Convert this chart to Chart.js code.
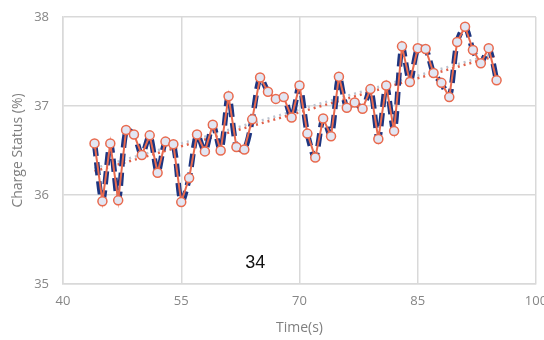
<!DOCTYPE html>
<html>
<head>
<meta charset="utf-8">
<script src="https://cdn.jsdelivr.net/npm/chart.js@4"></script>
<style>
  html, body { margin: 0; padding: 0; background: #fff; }
  #wrap { width: 544px; height: 340px; }
</style>
</head>
<body>
<div id="wrap"><canvas id="chart" width="544" height="340"></canvas></div>
<script>
// Time in seconds and measured charge status (%)
const times = [44, 45, 46, 47, 48, 49, 50, 51, 52, 53, 54, 55, 56, 57, 58, 59, 60,
    61, 62, 63, 64, 65, 66, 67, 68, 69, 70, 71, 72, 73, 74, 75, 76, 77, 78, 79,
    80, 81, 82, 83, 84, 85, 86, 87, 88, 89, 90, 91, 92, 93, 94, 95];
const charge = [36.58, 35.93, 36.58, 35.94, 36.73, 36.68, 36.45, 36.67, 36.25, 36.60,
    36.57, 35.92, 36.19, 36.68, 36.49, 36.79, 36.50, 37.11, 36.54, 36.51, 36.85,
    37.32, 37.16, 37.08, 37.10, 36.87, 37.23, 36.69, 36.42, 36.86, 36.66, 37.33,
    36.98, 37.04, 36.97, 37.19, 36.63, 37.23, 36.72, 37.67, 37.27, 37.65, 37.64,
    37.37, 37.26, 37.10, 37.72, 37.89, 37.63, 37.48, 37.65, 37.29];
// second (grey) trend line, end values
const greyTrendX = [44, 94];
const greyTrendY = [36.30, 37.57];
const xTicks = [40, 55, 70, 85, 100];
const yTicks = [35, 36, 37, 38];
const note = '34';

const points = times.map((t, i) => ({ x: t, y: charge[i] }));

// least squares trend for the red dotted line
function linearTrend(xs, ys) {
    const n = xs.length;
    const mx = xs.reduce((a, b) => a + b, 0) / n;
    const my = ys.reduce((a, b) => a + b, 0) / n;
    let sxy = 0, sxx = 0;
    xs.forEach((x, i) => { sxy += (x - mx) * (ys[i] - my); sxx += (x - mx) * (x - mx); });
    const slope = sxy / sxx;
    const first = xs[0], last = xs[n - 1];
    return [
        { x: first, y: my + slope * (first - mx) },
        { x: last, y: my + slope * (last - mx) }
    ];
}
const redTrend = linearTrend(times, charge);
const greyTrend = greyTrendX.map((x, i) => ({ x: x, y: greyTrendY[i] }));

const tickFont = { family: 'Open Sans', size: 13 };
const tickColor = '#868686';
const gridColor = '#d9d9d9';

// draws the "34" label inside the plot
const notePlugin = {
    id: 'note',
    afterDatasetsDraw(chart) {
        const { ctx, scales } = chart;
        ctx.save();
        ctx.font = '18px "Liberation Sans", Arial, sans-serif';
        ctx.fillStyle = '#111';
        ctx.textAlign = 'center';
        ctx.textBaseline = 'middle';
        ctx.fillText(note, scales.x.getPixelForValue(64.4), scales.y.getPixelForValue(35.24));
        ctx.restore();
    }
};

new Chart(document.getElementById('chart'), {
    type: 'line',
    data: {
        datasets: [
            {
                data: points,
                borderColor: '#e96a4e',
                borderWidth: 2,
                pointRadius: 4.5,
                pointBackgroundColor: '#e2e6f3',
                pointBorderColor: '#e96a4e',
                pointBorderWidth: 1.5,
                tension: 0,
                order: 0
            },
            {
                data: points,
                borderColor: '#1d3580',
                borderWidth: 5.5,
                borderDash: [13, 6],
                pointRadius: 0,
                tension: 0.3,
                order: 1
            },
            {
                data: redTrend,
                borderColor: '#e0614a',
                borderWidth: 2.5,
                borderDash: [2, 4],
                pointRadius: 0,
                order: 2
            },
            {
                data: greyTrend,
                borderColor: '#bcc3cf',
                borderWidth: 2.5,
                borderDash: [2, 4],
                pointRadius: 0,
                order: 3
            }
        ]
    },
    options: {
        responsive: false,
        animation: false,
        layout: { padding: { left: 10, right: 8, top: 17, bottom: 4 } },
        plugins: { legend: { display: false }, tooltip: { enabled: false } },
        scales: {
            x: {
                type: 'linear',
                min: 40,
                max: 100,
                afterBuildTicks: axis => { axis.ticks = xTicks.map(v => ({ value: v })); },
                ticks: { font: tickFont, color: tickColor, padding: 9 },
                grid: { color: gridColor, lineWidth: 1.5, drawTicks: false },
                border: { color: gridColor, width: 1.5 },
                title: { display: true, text: 'Time(s)', font: { family: 'Open Sans', size: 14 }, color: '#7f7f7f', padding: { top: 3, bottom: 0 } },
                afterFit: axis => {
                    axis.height = 52;
                    axis.paddingLeft = 0;
                    axis.paddingRight = 0;
                }
            },
            y: {
                min: 35,
                max: 38,
                afterBuildTicks: axis => { axis.ticks = yTicks.map(v => ({ value: v })); },
                ticks: { font: tickFont, color: tickColor, padding: 14 },
                grid: { color: gridColor, lineWidth: 1.5, drawTicks: false },
                border: { color: gridColor, width: 1.5 },
                title: { display: true, text: 'Charge Status (%)', font: { family: 'Open Sans', size: 14 }, color: '#7f7f7f', padding: { top: 0, bottom: 2 } },
                afterFit: axis => {
                    axis.width = 53;
                    axis.paddingTop = 0;
                    axis.paddingBottom = 0;
                }
            }
        }
    },
    plugins: [notePlugin]
});
</script>
</body>
</html>
